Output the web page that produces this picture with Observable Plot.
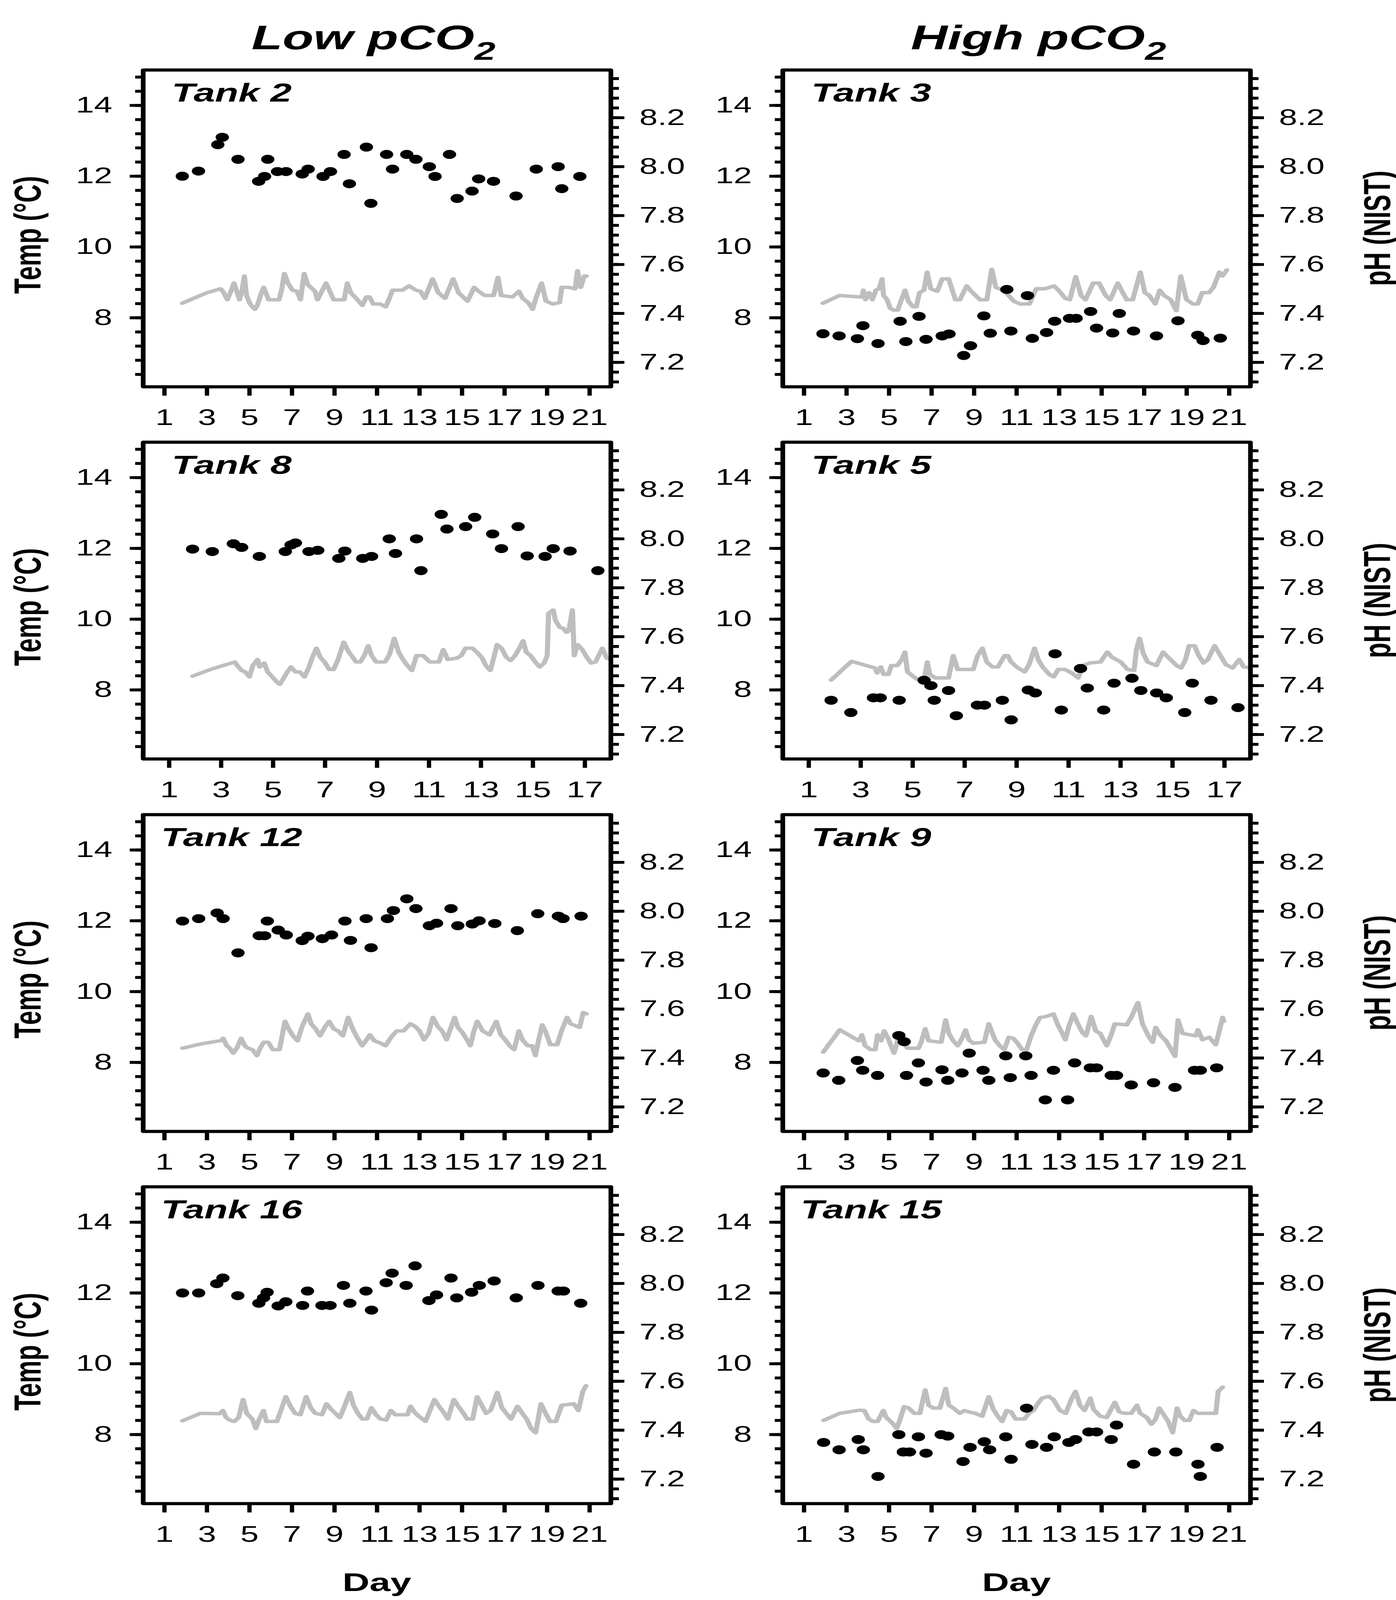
<!DOCTYPE html>
<html><head><meta charset="utf-8">
<script src="https://cdn.jsdelivr.net/npm/d3@7"></script>
<script src="https://cdn.jsdelivr.net/npm/@observablehq/plot@0.6"></script>
<style>
html,body{margin:0;padding:0;background:#fff;overflow:hidden;}
#page{position:absolute;left:0;top:0;width:3573px;height:6066px;background:#fff;font-family:"Liberation Sans",Arial,Helvetica,sans-serif;transform-origin:0 0;}
.layer{position:absolute;}
.layer svg{display:block;overflow:visible;}
</style></head><body><div id="page"></div>
<script>
// ---------- tick labels ----------
const dayTicks21 = [1,3,5,7,9,11,13,15,17,19,21];
const dayTicks17 = [1,3,5,7,9,11,13,15,17];
const tempMajor = [8,10,12,14];
const tempMinor = [6.4,6.8,7.2,7.6,8.0,8.4,8.8,9.2,9.6,10.0,10.4,10.8,11.2,11.6,12.0,12.4,12.8,13.2,13.6,14.0,14.4,14.8];
const phMajor = [7.2,7.4,7.6,7.8,8.0,8.2];
const phMinor = [7.12,7.16,7.20,7.24,7.28,7.32,7.36,7.40,7.44,7.48,7.52,7.56,7.60,7.64,7.68,7.72,7.76,7.80,7.84,7.88,7.92,7.96,8.00,8.04,8.08,8.12,8.16,8.20,8.24,8.28,8.32,8.36];
const columnTitles = ["Low pCO", "High pCO"];

// ---------- pH samples: [day, pH] ----------
const tank2PH = [[1.84,7.961],[2.6,7.982],[3.51,8.09],[3.72,8.12],[4.46,8.03],[5.43,7.94],[5.71,7.96],[5.86,8.03],[6.32,7.98],[6.72,7.98],[7.48,7.97],[7.76,7.99],[8.46,7.96],[8.81,7.98],[9.45,8.05],[9.70,7.93],[10.5,8.08],[10.71,7.85],[11.45,8.05],[11.73,7.99],[12.4,8.05],[12.83,8.03],[13.46,8.0],[13.73,7.96],[14.41,8.05],[14.77,7.87],[15.47,7.9],[15.78,7.95],[16.48,7.94],[17.54,7.88],[18.49,7.99],[19.52,8.0],[19.69,7.91],[20.54,7.96]];
const tank3PH = [[1.89,7.317],[2.65,7.308],[3.51,7.297],[3.77,7.35],[4.48,7.277],[5.52,7.368],[5.79,7.285],[6.41,7.388],[6.74,7.294],[7.5,7.308],[7.82,7.316],[8.51,7.228],[8.83,7.268],[9.46,7.39],[9.76,7.319],[10.54,7.498],[10.73,7.328],[11.51,7.473],[11.74,7.298],[12.41,7.322],[12.79,7.368],[13.49,7.38],[13.8,7.38],[14.48,7.408],[14.76,7.34],[15.52,7.32],[15.83,7.40],[16.5,7.328],[17.58,7.308],[18.59,7.37],[19.52,7.311],[19.77,7.289],[20.58,7.299]];
const tank8PH = [[1.9,7.958],[2.66,7.948],[3.47,7.98],[3.79,7.965],[4.47,7.928],[5.47,7.948],[5.69,7.975],[5.86,7.983],[6.38,7.948],[6.72,7.953],[7.53,7.92],[7.76,7.95],[8.45,7.92],[8.79,7.928],[9.47,8.0],[9.71,7.94],[10.52,8.0],[10.69,7.87],[11.47,8.1],[11.69,8.04],[12.41,8.05],[12.76,8.088],[13.45,8.02],[13.79,7.96],[14.43,8.05],[14.78,7.93],[15.47,7.928],[15.78,7.96],[16.43,7.95],[17.5,7.87]];
const tank5PH = [[1.86,7.34],[2.62,7.29],[3.49,7.35],[3.75,7.35],[4.48,7.34],[5.44,7.422],[5.7,7.40],[5.83,7.34],[6.38,7.38],[6.68,7.277],[7.49,7.32],[7.76,7.32],[8.45,7.34],[8.79,7.26],[9.45,7.382],[9.72,7.37],[10.48,7.53],[10.72,7.30],[11.46,7.47],[11.72,7.39],[12.35,7.30],[12.75,7.41],[13.44,7.43],[13.78,7.38],[14.39,7.37],[14.76,7.35],[15.47,7.29],[15.76,7.41],[16.48,7.34],[17.52,7.31]];
const tank12PH = [[1.85,7.96],[2.61,7.97],[3.48,7.993],[3.76,7.97],[4.46,7.83],[5.46,7.90],[5.71,7.90],[5.84,7.96],[6.35,7.923],[6.73,7.903],[7.48,7.88],[7.75,7.898],[8.43,7.888],[8.86,7.903],[9.49,7.96],[9.75,7.881],[10.49,7.97],[10.72,7.851],[11.49,7.97],[11.77,8.003],[12.4,8.051],[12.83,8.011],[13.46,7.941],[13.8,7.951],[14.48,8.011],[14.8,7.941],[15.48,7.948],[15.8,7.961],[16.54,7.95],[17.6,7.921],[18.56,7.99],[19.53,7.98],[19.75,7.97],[20.6,7.98]];
const tank9PH = [[1.9,7.339],[2.63,7.309],[3.51,7.39],[3.76,7.35],[4.46,7.329],[5.46,7.492],[5.71,7.467],[5.82,7.329],[6.38,7.38],[6.74,7.302],[7.49,7.352],[7.76,7.309],[8.43,7.339],[8.77,7.42],[9.42,7.35],[9.69,7.309],[10.49,7.409],[10.7,7.32],[11.43,7.409],[11.68,7.329],[12.35,7.229],[12.73,7.35],[13.4,7.229],[13.73,7.38],[14.47,7.36],[14.76,7.36],[15.45,7.329],[15.7,7.329],[16.39,7.29],[17.44,7.299],[18.45,7.28],[19.37,7.35],[19.64,7.35],[20.41,7.36]];
const tank16PH = [[1.85,7.961],[2.61,7.961],[3.46,7.999],[3.75,8.022],[4.45,7.95],[5.44,7.919],[5.66,7.941],[5.83,7.964],[6.35,7.908],[6.71,7.925],[7.5,7.91],[7.73,7.969],[8.41,7.91],[8.79,7.91],[9.42,7.992],[9.72,7.919],[10.48,7.969],[10.74,7.891],[11.43,8.003],[11.71,8.042],[12.37,7.992],[12.79,8.072],[13.44,7.93],[13.8,7.953],[14.48,8.022],[14.75,7.941],[15.45,7.964],[15.81,7.992],[16.51,8.01],[17.55,7.941],[18.57,7.992],[19.52,7.969],[19.77,7.969],[20.58,7.919]];
const tank15PH = [[1.92,7.35],[2.65,7.32],[3.55,7.362],[3.79,7.32],[4.48,7.211],[5.46,7.382],[5.67,7.311],[5.96,7.311],[6.38,7.373],[6.74,7.306],[7.45,7.382],[7.76,7.376],[8.48,7.272],[8.81,7.33],[9.48,7.353],[9.73,7.32],[10.49,7.373],[10.74,7.281],[11.47,7.49],[11.72,7.342],[12.41,7.33],[12.77,7.373],[13.46,7.35],[13.77,7.362],[14.4,7.393],[14.76,7.393],[15.45,7.362],[15.7,7.421],[16.5,7.261],[17.48,7.311],[18.49,7.311],[19.53,7.261],[19.64,7.211],[20.43,7.33]];

// ---------- temperature records: [day, °C] ----------
const tank2Temp = [[1.84,8.41],[2.37,8.55],[3.01,8.71],[3.64,8.82],[3.79,8.71],[3.96,8.51],[4.10,8.71],[4.27,8.98],[4.42,8.71],[4.53,8.51],[4.65,8.78],[4.76,9.18],[4.86,8.63],[5.03,8.39],[5.25,8.24],[5.37,8.35],[5.54,8.67],[5.67,8.86],[5.77,8.71],[5.90,8.51],[6.39,8.51],[6.51,8.78],[6.64,9.25],[6.81,8.98],[7.02,8.78],[7.23,8.75],[7.40,8.51],[7.57,9.25],[7.74,8.94],[8.08,8.75],[8.20,8.51],[8.60,8.98],[8.81,8.71],[8.96,8.51],[9.45,8.51],[9.60,8.98],[9.76,8.71],[10.08,8.51],[10.31,8.35],[10.50,8.59],[10.65,8.59],[10.82,8.39],[11.14,8.39],[11.41,8.31],[11.58,8.55],[11.73,8.78],[12.19,8.78],[12.51,8.90],[12.83,8.78],[13.04,8.75],[13.25,8.55],[13.61,9.10],[13.88,8.71],[14.20,8.55],[14.58,9.10],[14.83,8.71],[15.26,8.47],[15.57,8.86],[15.78,8.75],[16.06,8.63],[16.48,8.63],[16.69,9.14],[16.84,8.63],[17.37,8.59],[17.68,8.75],[17.85,8.55],[18.11,8.43],[18.32,8.24],[18.47,8.55],[18.74,8.98],[18.95,8.47],[19.27,8.39],[19.59,8.43],[19.69,8.86],[20.01,8.86],[20.32,8.82],[20.43,9.33],[20.58,8.86],[20.75,9.18],[20.85,9.18]];
const tank3Temp = [[1.89,8.41],[2.67,8.63],[3.58,8.59],[3.72,8.59],[3.79,8.78],[3.89,8.51],[4.06,8.71],[4.21,8.51],[4.38,8.78],[4.53,8.82],[4.67,9.10],[4.74,8.63],[4.91,8.51],[5.05,8.27],[5.20,8.22],[5.41,8.22],[5.58,8.51],[5.75,8.78],[5.90,8.47],[6.13,8.31],[6.28,8.31],[6.43,8.71],[6.64,8.78],[6.79,9.29],[6.96,8.82],[7.27,8.75],[7.50,9.10],[7.80,9.10],[8.12,8.51],[8.33,8.51],[8.65,8.90],[8.86,8.75],[9.07,8.63],[9.28,8.51],[9.60,8.51],[9.83,9.37],[10.02,8.86],[10.44,8.75],[10.86,8.47],[11.18,8.39],[11.60,8.39],[11.92,8.82],[12.34,8.82],[12.76,8.90],[12.97,8.78],[13.29,8.55],[13.50,8.51],[13.78,9.16],[14.03,8.63],[14.24,8.51],[14.60,8.98],[14.88,8.98],[15.19,8.63],[15.40,8.51],[15.76,8.98],[15.93,8.78],[16.18,8.51],[16.46,8.51],[16.82,9.29],[17.03,8.71],[17.24,8.63],[17.52,8.39],[17.73,8.78],[17.94,8.63],[18.25,8.51],[18.51,8.20],[18.72,9.18],[18.99,8.51],[19.31,8.39],[19.52,8.39],[19.73,8.71],[20.05,8.71],[20.26,8.86],[20.54,9.29],[20.68,9.18],[20.89,9.35]];
const tank8Temp = [[1.90,8.39],[2.67,8.60],[3.53,8.79],[3.62,8.69],[3.79,8.55],[3.93,8.51],[4.09,8.37],[4.22,8.69],[4.40,8.86],[4.48,8.65],[4.66,8.76],[4.79,8.51],[4.97,8.37],[5.14,8.23],[5.26,8.16],[5.38,8.30],[5.52,8.48],[5.69,8.65],[5.86,8.51],[6.03,8.51],[6.21,8.37],[6.38,8.65],[6.50,8.90],[6.67,9.18],[6.81,8.93],[6.98,8.79],[7.16,8.58],[7.33,8.58],[7.50,8.86],[7.72,9.35],[7.88,9.11],[8.02,8.97],[8.19,8.79],[8.36,8.79],[8.53,9.00],[8.66,9.25],[8.79,8.97],[8.97,8.79],[9.31,8.79],[9.48,9.00],[9.66,9.46],[9.83,9.07],[10.00,8.86],[10.17,8.69],[10.34,8.55],[10.52,8.97],[10.78,8.97],[11.03,8.79],[11.38,8.79],[11.55,9.14],[11.72,8.86],[12.07,8.90],[12.24,8.97],[12.41,9.18],[12.67,9.18],[12.84,9.07],[13.02,8.93],[13.19,8.69],[13.36,8.55],[13.50,8.93],[13.62,9.28],[13.79,9.18],[13.97,8.93],[14.14,8.83],[14.31,8.97],[14.48,9.18],[14.62,9.39],[14.74,9.07],[14.91,8.97],[15.09,8.79],[15.26,8.65],[15.43,8.76],[15.55,8.97],[15.60,10.16],[15.78,10.26],[15.86,9.98],[16.03,9.77],[16.17,9.74],[16.29,9.63],[16.38,9.67],[16.52,10.26],[16.59,8.97],[16.72,9.28],[16.90,9.14],[17.07,8.93],[17.24,8.76],[17.41,8.79],[17.67,9.18],[17.84,8.90],[18.10,8.83]];
const tank5Temp = [[1.86,8.28],[2.65,8.81],[3.55,8.62],[3.63,8.48],[3.77,8.65],[3.89,8.44],[4.06,8.44],[4.18,8.69],[4.41,8.69],[4.58,8.86],[4.70,9.07],[4.80,8.51],[4.97,8.41],[5.18,8.30],[5.44,8.27],[5.56,8.79],[5.66,8.44],[5.87,8.34],[6.38,8.34],[6.56,8.97],[6.73,8.58],[7.33,8.58],[7.50,8.97],[7.68,9.18],[7.85,8.79],[8.07,8.65],[8.28,8.65],[8.54,8.97],[8.66,8.97],[8.79,8.79],[9.00,8.65],[9.31,8.51],[9.48,8.72],[9.69,9.18],[9.83,8.86],[10.00,8.65],[10.26,8.44],[10.43,8.37],[10.60,8.58],[10.86,8.58],[11.12,8.48],[11.37,8.34],[11.55,8.69],[11.80,8.76],[12.23,8.79],[12.49,9.07],[12.66,8.93],[13.01,8.79],[13.27,8.58],[13.52,8.55],[13.61,9.14],[13.73,9.46],[13.87,9.04],[14.04,8.79],[14.38,8.69],[14.64,9.07],[14.82,8.93],[15.16,8.69],[15.33,8.62],[15.50,8.86],[15.64,9.25],[15.85,9.25],[15.99,9.00],[16.19,8.76],[16.36,8.86],[16.62,9.25],[16.79,9.04],[17.05,8.72],[17.31,8.62],[17.57,8.86],[17.74,8.65],[18.17,8.62]];
const tank12Temp = [[1.85,8.40],[2.70,8.52],[3.70,8.62],[3.76,8.68],[3.93,8.47],[4.08,8.40],[4.23,8.26],[4.40,8.40],[4.61,8.68],[4.78,8.47],[4.93,8.40],[5.14,8.36],[5.35,8.19],[5.50,8.40],[5.67,8.57],[5.88,8.57],[6.10,8.36],[6.41,8.36],[6.67,9.16],[6.84,8.95],[7.05,8.75],[7.26,8.61],[7.48,9.02],[7.75,9.37],[7.90,9.09],[8.11,8.95],[8.32,8.75],[8.54,8.99],[8.75,9.16],[8.96,8.95],[9.17,8.89],[9.39,8.75],[9.64,9.27],[9.85,8.95],[10.02,8.75],[10.30,8.47],[10.51,8.64],[10.66,8.78],[10.87,8.61],[11.19,8.54],[11.40,8.47],[11.66,8.71],[11.93,8.89],[12.25,8.89],[12.57,9.09],[12.78,9.02],[13.00,8.89],[13.21,8.64],[13.42,8.82],[13.63,9.27],[13.85,9.02],[14.06,8.89],[14.27,8.64],[14.48,8.99],[14.65,9.27],[14.80,8.99],[15.01,8.85],[15.23,8.64],[15.39,8.47],[15.54,8.85],[15.71,9.16],[15.97,8.89],[16.29,8.78],[16.61,9.16],[16.82,8.78],[17.03,8.64],[17.24,8.47],[17.45,8.36],[17.67,8.89],[17.84,8.64],[18.09,8.47],[18.30,8.47],[18.45,8.19],[18.62,8.68],[18.77,9.06],[18.94,8.85],[19.15,8.50],[19.47,8.50],[19.68,8.89],[19.94,9.27],[20.11,9.09],[20.53,8.99],[20.70,9.41],[20.85,9.37]];
const tank9Temp = [[1.90,8.29],[2.68,8.92],[3.58,8.61],[3.72,8.78],[3.87,8.47],[4.14,8.36],[4.35,8.36],[4.46,8.78],[4.62,8.61],[4.77,8.89],[4.98,8.64],[5.23,8.26],[5.40,8.61],[5.50,8.75],[5.67,8.57],[5.86,8.40],[6.38,8.40],[6.51,8.57],[6.70,8.95],[6.86,8.61],[7.45,8.57],[7.66,9.20],[7.81,8.82],[8.02,8.61],[8.23,8.47],[8.43,8.68],[8.60,8.92],[8.75,8.64],[8.96,8.54],[9.48,8.57],[9.69,9.09],[9.86,8.82],[10.01,8.61],[10.21,8.47],[10.42,8.36],[10.63,8.71],[10.84,8.68],[11.05,8.54],[11.26,8.36],[11.47,8.36],[11.68,8.75],[11.93,9.09],[12.10,9.27],[12.41,9.30],[12.73,9.37],[12.94,9.06],[13.15,8.82],[13.29,8.64],[13.46,9.02],[13.67,9.37],[13.88,9.09],[14.09,8.85],[14.26,8.75],[14.51,9.30],[14.72,8.89],[14.93,8.82],[15.24,8.47],[15.45,8.78],[15.62,9.09],[16.18,9.06],[16.39,9.27],[16.71,9.69],[16.92,9.09],[17.23,8.71],[17.40,8.57],[17.54,8.99],[17.75,8.78],[18.03,8.61],[18.24,8.40],[18.45,8.17],[18.59,9.20],[18.80,8.82],[19.43,8.75],[19.53,8.92],[19.74,8.64],[20.06,8.71],[20.37,8.50],[20.69,9.27],[20.75,9.16]];
const tank16Temp = [[1.85,8.39],[2.69,8.60],[3.60,8.59],[3.75,8.68],[3.90,8.48],[4.07,8.41],[4.28,8.37],[4.49,8.48],[4.70,8.99],[4.87,8.60],[5.13,8.44],[5.30,8.17],[5.44,8.41],[5.66,8.68],[5.80,8.37],[6.29,8.37],[6.71,9.07],[6.93,8.80],[7.14,8.60],[7.39,8.56],[7.67,9.07],[7.88,8.76],[8.09,8.60],[8.41,8.56],[8.62,8.87],[8.83,8.72],[9.04,8.60],[9.25,8.48],[9.47,8.80],[9.72,9.19],[9.89,8.83],[10.10,8.60],[10.31,8.44],[10.52,8.44],[10.74,8.76],[10.95,8.56],[11.16,8.44],[11.43,8.41],[11.65,8.68],[11.86,8.56],[12.43,8.56],[12.58,8.80],[12.75,8.64],[12.96,8.52],[13.28,8.37],[13.49,8.68],[13.70,8.99],[13.91,8.80],[14.12,8.64],[14.33,8.44],[14.61,8.99],[14.82,8.80],[15.07,8.60],[15.24,8.44],[15.50,8.44],[15.71,9.07],[15.92,8.83],[16.13,8.60],[16.34,8.68],[16.66,9.19],[16.87,8.76],[17.08,8.60],[17.30,8.44],[17.61,8.80],[17.83,8.60],[18.04,8.44],[18.25,8.17],[18.46,8.05],[18.71,8.87],[18.93,8.60],[19.14,8.37],[19.41,8.37],[19.69,8.83],[20.26,8.87],[20.47,8.68],[20.68,9.22],[20.83,9.38]];
const tank15Temp = [[1.92,8.40],[2.68,8.60],[3.62,8.69],[3.83,8.68],[4.04,8.44],[4.25,8.37],[4.46,8.37],[4.73,8.68],[4.87,8.48],[5.15,8.33],[5.36,8.17],[5.50,8.40],[5.71,8.79],[5.92,8.75],[6.19,8.60],[6.45,8.60],[6.70,9.26],[6.86,8.83],[7.07,8.75],[7.39,8.75],[7.66,9.30],[7.81,8.83],[8.02,8.75],[8.33,8.60],[8.54,8.68],[8.75,8.64],[9.06,8.60],[9.38,8.52],[9.69,9.07],[9.90,8.72],[10.11,8.52],[10.32,8.37],[10.53,8.68],[10.74,8.64],[10.95,8.44],[11.37,8.44],[11.58,8.60],[11.79,8.68],[11.99,8.87],[12.20,9.03],[12.52,9.08],[12.73,8.99],[13.04,8.68],[13.31,8.60],[13.57,8.99],[13.77,9.22],[13.98,8.83],[14.19,8.68],[14.47,9.03],[14.61,8.72],[14.93,8.52],[15.24,8.48],[15.45,8.72],[15.62,8.91],[15.83,8.64],[16.08,8.60],[16.39,8.60],[16.66,8.83],[16.81,8.60],[17.13,8.48],[17.34,8.29],[17.54,8.44],[17.71,8.75],[17.92,8.56],[18.13,8.37],[18.34,8.05],[18.55,8.75],[18.70,8.52],[18.91,8.40],[19.12,8.40],[19.32,8.68],[19.53,8.60],[20.37,8.60],[20.48,9.22],[20.69,9.34]];

// ---------- panel arrangement ----------
const panels = [
  {name:"Tank 2",  row:0, col:0, ph:tank2PH,  temp:tank2Temp,  days:22, ticks:dayTicks21},
  {name:"Tank 3",  row:0, col:1, ph:tank3PH,  temp:tank3Temp,  days:22, ticks:dayTicks21},
  {name:"Tank 8",  row:1, col:0, ph:tank8PH,  temp:tank8Temp,  days:18, ticks:dayTicks17},
  {name:"Tank 5",  row:1, col:1, ph:tank5PH,  temp:tank5Temp,  days:18, ticks:dayTicks17},
  {name:"Tank 12", row:2, col:0, ph:tank12PH, temp:tank12Temp, days:22, ticks:dayTicks21},
  {name:"Tank 9",  row:2, col:1, ph:tank9PH,  temp:tank9Temp,  days:22, ticks:dayTicks21},
  {name:"Tank 16", row:3, col:0, ph:tank16PH, temp:tank16Temp, days:22, ticks:dayTicks21},
  {name:"Tank 15", row:3, col:1, ph:tank15PH, temp:tank15Temp, days:22, ticks:dayTicks21}
];

// ---------- layout (pixels of the 3573 x 6066 figure) ----------
const FIG_W = 3573, FIG_H = 6066;
const colLeft = [366, 2003];
const rowTop = [265, 1676, 3088, 4499];
const boxW = 1197, boxH = 1201;
const mL = 300, mR = 300, mT = 30, mB = 180;
const FONT = '"Liberation Sans", Arial, Helvetica, sans-serif';
const tickFont = 84;
const lw = 11;

const page = document.getElementById("page");
const NS = "http://www.w3.org/2000/svg";

// the browser window may be shorter than the figure: fit the whole figure into it
const fitY = Math.min(1, (window.innerHeight || FIG_H) / FIG_H);
const fitX = Math.min(1, (window.innerWidth || FIG_W) / FIG_W);
page.style.transform = `scale(${fitX}, ${fitY})`;

function baseOpts(p) {
  return {
    width: mL + boxW + mR,
    height: mT + boxH + mB,
    marginLeft: mL, marginRight: mR, marginTop: mT, marginBottom: mB,
    style: {background: "transparent", fontFamily: FONT, fontSize: tickFont + "px", color: "black", overflow: "visible"},
    x: {domain: [0, p.days], axis: null}
  };
}

function place(el, left, top) {
  const wrap = document.createElement("div");
  wrap.className = "layer";
  wrap.style.left = left + "px";
  wrap.style.top = top + "px";
  wrap.appendChild(el);
  page.appendChild(wrap);
}

function svgText(svg, str, attrs) {
  const t = document.createElementNS(NS, "text");
  for (const k in attrs) t.setAttribute(k, attrs[k]);
  t.textContent = str;
  svg.appendChild(t);
  return t;
}

for (const p of panels) {
  const left = colLeft[p.col] - mL, top = rowTop[p.row] - mT;

  // temperature layer (left axis)
  const tempPlot = Plot.plot({
    ...baseOpts(p),
    y: {domain: [6.05, 15.0], axis: null},
    marks: [
      Plot.line(p.temp, {x: d => d[0], y: d => d[1], stroke: "#bebebe", strokeWidth: 13, strokeLinejoin: "round", strokeLinecap: "round", clip: true}),
      Plot.axisY(tempMinor, {anchor: "left", tickSize: 20, tickFormat: () => "", strokeWidth: lw, label: null}),
      Plot.axisY(tempMajor, {anchor: "left", tickSize: 34, tickPadding: 45, tickFormat: d => String(d), fontSize: tickFont, strokeWidth: lw, label: null}),
      Plot.axisX(p.ticks, {anchor: "bottom", tickSize: 34, tickPadding: 51, tickFormat: d => String(d), fontSize: tickFont, strokeWidth: lw, label: null}),
      Plot.frame({stroke: "black", strokeWidth: 12, strokeLinejoin: "round"})
    ]
  });

  // pH layer (right axis)
  const phPlot = Plot.plot({
    ...baseOpts(p),
    y: {domain: [7.1, 8.395], axis: null},
    marks: [
      Plot.dot(p.ph, {x: d => d[0], y: d => d[1], r: 17, fill: "black"}),
      Plot.axisY(phMinor, {anchor: "right", tickSize: 20, tickFormat: () => "", strokeWidth: lw, label: null}),
      Plot.axisY(phMajor, {anchor: "right", tickSize: 34, tickPadding: 39, tickFormat: d3.format(".1f"), fontSize: tickFont, strokeWidth: lw, label: null})
    ]
  });

  // panel label inside the box
  svgText(phPlot, p.name, {x: mL + 227, y: mT + 120, "text-anchor": "middle", "font-size": 98, "font-weight": "bold", "font-style": "italic", fill: "black"});

  place(tempPlot, left, top);
  place(phPlot, left, top);
}

// ---------- row-level axis titles ----------
for (let r = 0; r < 4; r++) {
  const svg = document.createElementNS(NS, "svg");
  svg.setAttribute("width", FIG_W);
  svg.setAttribute("height", boxH);
  svg.style.fontFamily = FONT;
  svg.style.overflow = "visible";
  const cy = boxH / 2;
  svgText(svg, "Temp (°C)", {transform: `translate(104,${cy + 25}) rotate(-90)`, "text-anchor": "middle", "font-size": 96, "font-weight": "bold", fill: "black"});
  svgText(svg, "pH (NIST)", {transform: `translate(3558,${cy}) rotate(-90)`, "text-anchor": "middle", "font-size": 96, "font-weight": "bold", fill: "black"});
  place(svg, 0, rowTop[r]);
}

// ---------- column titles ----------
{
  const svg = document.createElementNS(NS, "svg");
  svg.setAttribute("width", FIG_W);
  svg.setAttribute("height", 260);
  svg.style.fontFamily = FONT;
  const titleX = [956, 2658];
  columnTitles.forEach((s, i) => {
    const t = svgText(svg, s, {x: titleX[i], y: 187, "text-anchor": "middle", "font-size": 130, "font-weight": "bold", "font-style": "italic", fill: "black"});
    const sub = document.createElementNS(NS, "tspan");
    sub.setAttribute("font-size", 97);
    sub.setAttribute("dy", 39);
    sub.textContent = "2";
    t.appendChild(sub);
  });
  place(svg, 0, 0);
}

// ---------- x-axis titles ----------
{
  const svg = document.createElementNS(NS, "svg");
  svg.setAttribute("width", FIG_W);
  svg.setAttribute("height", 166);
  svg.style.fontFamily = FONT;
  for (let c = 0; c < 2; c++) {
    svgText(svg, "Day", {x: colLeft[c] + boxW / 2, y: 132, "text-anchor": "middle", "font-size": 96, "font-weight": "bold", fill: "black"});
  }
  place(svg, 0, 5900);
}
</script></body></html>
